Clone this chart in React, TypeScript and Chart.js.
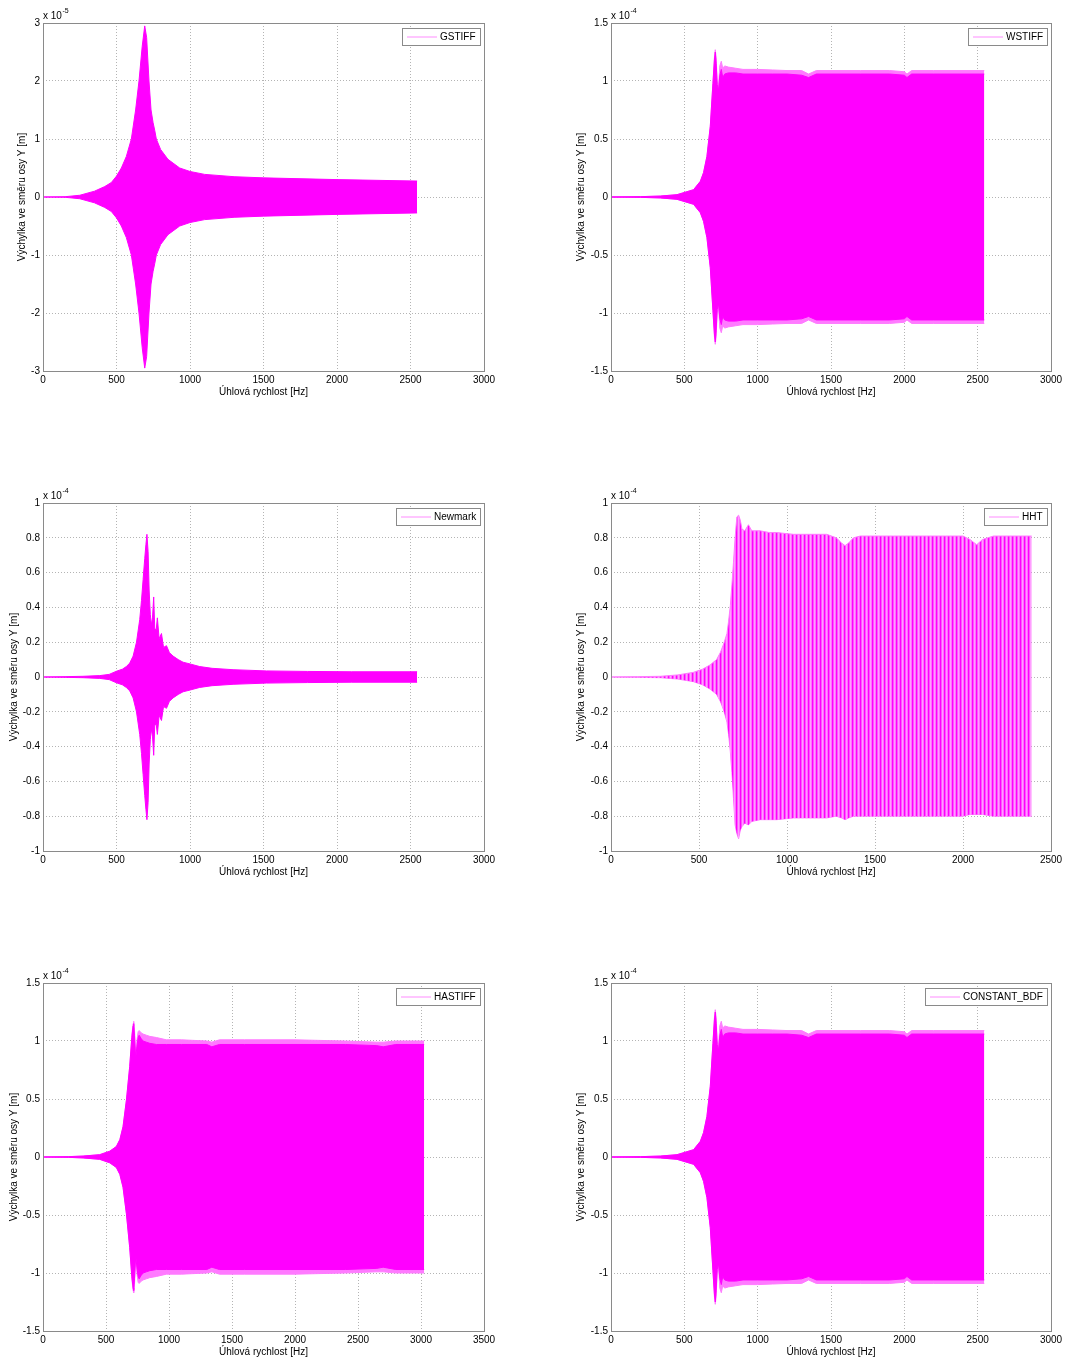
import React, { useEffect, useRef } from "react";
import { Chart, registerables } from "chart.js";

Chart.register(...registerables);

const FONT = "'Liberation Sans', Arial, Helvetica, sans-serif";
const MAGENTA = "#ff00ff";
const PALE = "#ff7aff";
const LEGEND_LINE = "#ff8cff";
const GRID = "#b4b4b4";
const FRAME = "#8a8a8a";

const X_TITLE = "Úhlová rychlost [Hz]";
const Y_TITLE = "Výchylka ve směru osy Y [m]";

// ---------- tick lists ----------
const xTicks3000 = [0, 500, 1000, 1500, 2000, 2500, 3000];
const xTicks2500 = [0, 500, 1000, 1500, 2000, 2500];
const xTicks3500 = [0, 500, 1000, 1500, 2000, 2500, 3000, 3500];
const yTicksGstiff = [-3, -2, -1, 0, 1, 2, 3];
const yTicks15 = [-1.5, -1, -0.5, 0, 0.5, 1, 1.5];
const yTicks1 = [-1, -0.8, -0.6, -0.4, -0.2, 0, 0.2, 0.4, 0.6, 0.8, 1];

// ---------- GSTIFF (x 1e-5 m) ----------
const gstiffHz = [0, 150, 250, 350, 420, 465, 500, 533, 567, 601, 630, 653, 675, 692, 705, 721, 735, 749, 760, 771, 800, 850, 930, 1000, 1100, 1300, 1500, 2000, 2545];
const gstiffUpper = [0, 0.005, 0.03, 0.1, 0.18, 0.25, 0.36, 0.5, 0.7, 1.0, 1.5, 2.0, 2.6, 2.95, 2.75, 2.0, 1.5, 1.28, 1.15, 1.0, 0.82, 0.65, 0.5, 0.44, 0.39, 0.35, 0.33, 0.3, 0.275];
const gstiffLower = [0, -0.005, -0.03, -0.1, -0.18, -0.25, -0.36, -0.5, -0.7, -1.0, -1.5, -2.0, -2.6, -2.95, -2.75, -2.0, -1.5, -1.28, -1.15, -1.0, -0.82, -0.65, -0.5, -0.44, -0.39, -0.35, -0.33, -0.3, -0.275];

// ---------- WSTIFF (x 1e-4 m) ----------
const wstiffHz = [0, 200, 336, 450, 563, 609, 631, 654, 677, 695, 705, 711, 717, 724, 733, 742, 752, 762, 775, 800, 850, 900, 1000, 1100, 1200, 1300, 1347, 1400, 1500, 1700, 1900, 2000, 2018, 2050, 2200, 2400, 2545];
const wstiffOuterUpper = [0, 0.003, 0.008, 0.02, 0.063, 0.135, 0.21, 0.35, 0.61, 0.98, 1.2, 1.27, 1.2, 1.0, 0.95, 1.13, 1.17, 1.11, 1.13, 1.12, 1.11, 1.1, 1.1, 1.095, 1.09, 1.09, 1.06, 1.09, 1.09, 1.09, 1.09, 1.08, 1.06, 1.09, 1.09, 1.09, 1.09];
const wstiffOuterLower = [0, -0.003, -0.008, -0.02, -0.063, -0.135, -0.21, -0.35, -0.61, -0.98, -1.2, -1.27, -1.2, -1.0, -0.95, -1.13, -1.17, -1.11, -1.13, -1.12, -1.11, -1.1, -1.1, -1.095, -1.09, -1.09, -1.06, -1.09, -1.09, -1.09, -1.09, -1.08, -1.06, -1.09, -1.09, -1.09, -1.09];
const wstiffInnerUpper = [0, 0.003, 0.008, 0.02, 0.063, 0.135, 0.21, 0.35, 0.61, 0.98, 1.18, 1.25, 1.15, 0.97, 0.92, 1.05, 1.1, 1.03, 1.06, 1.07, 1.07, 1.06, 1.06, 1.06, 1.06, 1.05, 1.03, 1.06, 1.06, 1.06, 1.06, 1.05, 1.03, 1.06, 1.06, 1.06, 1.06];
const wstiffInnerLower = [0, -0.003, -0.008, -0.02, -0.063, -0.135, -0.21, -0.35, -0.61, -0.98, -1.18, -1.25, -1.15, -0.97, -0.92, -1.05, -1.1, -1.03, -1.06, -1.07, -1.07, -1.06, -1.06, -1.06, -1.06, -1.05, -1.03, -1.06, -1.06, -1.06, -1.06, -1.05, -1.03, -1.06, -1.06, -1.06, -1.06];

// ---------- Newmark (x 1e-4 m) ----------
const newmarkHz = [0, 150, 272, 386, 450, 499, 540, 567, 590, 613, 636, 658, 670, 681, 692, 700, 707, 715, 722, 730, 737, 745, 753, 760, 770, 778, 790, 806, 820, 840, 860, 885, 920, 953, 1000, 1066, 1150, 1293, 1520, 1800, 2100, 2545];
const newmarkUpper = [0, 0.002, 0.004, 0.008, 0.015, 0.033, 0.045, 0.06, 0.08, 0.12, 0.2, 0.33, 0.44, 0.56, 0.68, 0.76, 0.82, 0.72, 0.5, 0.36, 0.3, 0.34, 0.46, 0.28, 0.27, 0.34, 0.22, 0.25, 0.17, 0.18, 0.14, 0.12, 0.1, 0.085, 0.075, 0.06, 0.05, 0.042, 0.035, 0.032, 0.03, 0.03];
const newmarkLower = [0, -0.002, -0.004, -0.008, -0.015, -0.033, -0.045, -0.06, -0.08, -0.12, -0.2, -0.33, -0.44, -0.56, -0.68, -0.76, -0.82, -0.72, -0.5, -0.36, -0.3, -0.34, -0.45, -0.28, -0.27, -0.33, -0.22, -0.25, -0.17, -0.18, -0.14, -0.12, -0.1, -0.085, -0.075, -0.06, -0.05, -0.042, -0.035, -0.032, -0.03, -0.03];

// ---------- HHT (x 1e-4 m) ----------
const hhtHz = [0, 150, 280, 380, 469, 520, 564, 600, 621, 640, 659, 668, 678, 687, 696, 705, 715, 725, 735, 744, 760, 781, 800, 848, 900, 942, 1037, 1100, 1226, 1280, 1310, 1330, 1350, 1378, 1416, 1500, 1605, 1700, 1794, 1900, 2000, 2040, 2078, 2110, 2173, 2250, 2390];
const hhtUpper = [0, 0.002, 0.004, 0.012, 0.027, 0.045, 0.07, 0.1, 0.14, 0.19, 0.25, 0.32, 0.41, 0.53, 0.66, 0.8, 0.92, 0.93, 0.9, 0.85, 0.84, 0.875, 0.84, 0.84, 0.83, 0.83, 0.82, 0.82, 0.82, 0.8, 0.77, 0.755, 0.77, 0.8, 0.81, 0.81, 0.81, 0.81, 0.81, 0.81, 0.81, 0.79, 0.76, 0.79, 0.81, 0.81, 0.81];
const hhtLower = [0, -0.002, -0.004, -0.012, -0.027, -0.045, -0.07, -0.1, -0.14, -0.19, -0.26, -0.33, -0.43, -0.55, -0.7, -0.85, -0.9, -0.93, -0.88, -0.86, -0.84, -0.85, -0.83, -0.82, -0.82, -0.82, -0.81, -0.81, -0.81, -0.8, -0.81, -0.82, -0.81, -0.8, -0.8, -0.8, -0.8, -0.8, -0.8, -0.8, -0.8, -0.79, -0.79, -0.79, -0.8, -0.8, -0.8];

// ---------- HASTIFF (x 1e-4 m) ----------
const hastiffHz = [0, 200, 318, 450, 530, 582, 610, 635, 662, 688, 705, 715, 720, 726, 736, 745, 755, 763, 780, 794, 820, 847, 900, 980, 1100, 1300, 1340, 1400, 1600, 2000, 2400, 2650, 2700, 2800, 3025];
const hastiffOuterUpper = [0, 0.003, 0.008, 0.02, 0.05, 0.09, 0.15, 0.26, 0.49, 0.78, 1.05, 1.15, 1.17, 1.1, 0.87, 1.0, 1.08, 1.09, 1.07, 1.06, 1.05, 1.04, 1.03, 1.01, 1.01, 1.0, 0.99, 1.01, 1.01, 1.01, 1.0, 0.99, 0.99, 1.0, 1.0];
const hastiffOuterLower = [0, -0.003, -0.008, -0.02, -0.05, -0.09, -0.15, -0.26, -0.49, -0.78, -1.05, -1.15, -1.17, -1.1, -0.87, -1.0, -1.08, -1.09, -1.07, -1.06, -1.05, -1.04, -1.03, -1.01, -1.01, -1.0, -0.99, -1.01, -1.01, -1.01, -1.0, -0.99, -0.99, -1.0, -1.0];
const hastiffInnerUpper = [0, 0.003, 0.008, 0.02, 0.05, 0.09, 0.15, 0.26, 0.49, 0.78, 1.03, 1.13, 1.15, 1.05, 0.85, 0.95, 1.03, 1.05, 1.02, 1.0, 0.99, 0.98, 0.97, 0.97, 0.97, 0.97, 0.95, 0.97, 0.97, 0.97, 0.97, 0.96, 0.95, 0.97, 0.97];
const hastiffInnerLower = [0, -0.003, -0.008, -0.02, -0.05, -0.09, -0.15, -0.26, -0.49, -0.78, -1.03, -1.13, -1.15, -1.05, -0.85, -0.95, -1.03, -1.05, -1.02, -1.0, -0.99, -0.98, -0.97, -0.97, -0.97, -0.97, -0.95, -0.97, -0.97, -0.97, -0.97, -0.96, -0.95, -0.97, -0.97];

// ---------- CONSTANT_BDF (x 1e-4 m) ----------
const bdfHz = [0, 200, 336, 450, 563, 609, 631, 654, 677, 695, 705, 711, 717, 724, 733, 742, 752, 762, 775, 800, 850, 900, 1000, 1100, 1200, 1300, 1347, 1400, 1500, 1700, 1900, 2000, 2018, 2050, 2200, 2400, 2545];
const bdfOuterUpper = [0, 0.003, 0.008, 0.02, 0.063, 0.135, 0.21, 0.35, 0.61, 0.98, 1.2, 1.27, 1.2, 1.0, 0.95, 1.13, 1.17, 1.11, 1.13, 1.12, 1.11, 1.1, 1.1, 1.095, 1.09, 1.09, 1.06, 1.09, 1.09, 1.09, 1.09, 1.08, 1.06, 1.09, 1.09, 1.09, 1.09];
const bdfOuterLower = [0, -0.003, -0.008, -0.02, -0.063, -0.135, -0.21, -0.35, -0.61, -0.98, -1.2, -1.27, -1.2, -1.0, -0.95, -1.13, -1.17, -1.11, -1.13, -1.12, -1.11, -1.1, -1.1, -1.095, -1.09, -1.09, -1.06, -1.09, -1.09, -1.09, -1.09, -1.08, -1.06, -1.09, -1.09, -1.09, -1.09];
const bdfInnerUpper = [0, 0.003, 0.008, 0.02, 0.063, 0.135, 0.21, 0.35, 0.61, 0.98, 1.18, 1.25, 1.15, 0.97, 0.92, 1.05, 1.1, 1.03, 1.06, 1.07, 1.07, 1.06, 1.06, 1.06, 1.06, 1.05, 1.03, 1.06, 1.06, 1.06, 1.06, 1.05, 1.03, 1.06, 1.06, 1.06, 1.06];
const bdfInnerLower = [0, -0.003, -0.008, -0.02, -0.063, -0.135, -0.21, -0.35, -0.61, -0.98, -1.18, -1.25, -1.15, -0.97, -0.92, -1.05, -1.1, -1.03, -1.06, -1.07, -1.07, -1.06, -1.06, -1.06, -1.06, -1.05, -1.03, -1.06, -1.06, -1.06, -1.06, -1.05, -1.03, -1.06, -1.06, -1.06, -1.06];

type Band = { xs: number[]; up: number[]; lo: number[]; fill: string; line: string; pattern?: boolean };
type PanelCfg = {
  name: string;
  left: number;
  top: number;
  plotLeft: number;
  plotRight: number;
  xMax: number;
  xTicks: number[];
  yMin: number;
  yMax: number;
  yTicks: number[];
  exponent: string;
  yTitleX: number;
  bands: Band[];
};

const CW = 506;
const CH = 400;
const PLOT_TOP = 23;
const PLOT_BOTTOM = 371;

const panels: PanelCfg[] = [
  {
    name: "GSTIFF", left: 0, top: 0, plotLeft: 43, plotRight: 484, xMax: 3000, xTicks: xTicks3000,
    yMin: -3, yMax: 3, yTicks: yTicksGstiff, exponent: "-5", yTitleX: 22.5,
    bands: [{ xs: gstiffHz, up: gstiffUpper, lo: gstiffLower, fill: MAGENTA, line: MAGENTA }],
  },
  {
    name: "WSTIFF", left: 560, top: 0, plotLeft: 51, plotRight: 491, xMax: 3000, xTicks: xTicks3000,
    yMin: -1.5, yMax: 1.5, yTicks: yTicks15, exponent: "-4", yTitleX: 21.5,
    bands: [
      { xs: wstiffHz, up: wstiffInnerUpper, lo: wstiffInnerLower, fill: MAGENTA, line: MAGENTA },
      { xs: wstiffHz, up: wstiffOuterUpper, lo: wstiffOuterLower, fill: PALE, line: PALE },
    ],
  },
  {
    name: "Newmark", left: 0, top: 480, plotLeft: 43, plotRight: 484, xMax: 3000, xTicks: xTicks3000,
    yMin: -1, yMax: 1, yTicks: yTicks1, exponent: "-4", yTitleX: 14,
    bands: [{ xs: newmarkHz, up: newmarkUpper, lo: newmarkLower, fill: MAGENTA, line: MAGENTA }],
  },
  {
    name: "HHT", left: 560, top: 480, plotLeft: 51, plotRight: 491, xMax: 2500, xTicks: xTicks2500,
    yMin: -1, yMax: 1, yTicks: yTicks1, exponent: "-4", yTitleX: 21.5,
    bands: [{ xs: hhtHz, up: hhtUpper, lo: hhtLower, fill: MAGENTA, line: PALE, pattern: true }],
  },
  {
    name: "HASTIFF", left: 0, top: 960, plotLeft: 43, plotRight: 484, xMax: 3500, xTicks: xTicks3500,
    yMin: -1.5, yMax: 1.5, yTicks: yTicks15, exponent: "-4", yTitleX: 14,
    bands: [
      { xs: hastiffHz, up: hastiffInnerUpper, lo: hastiffInnerLower, fill: MAGENTA, line: MAGENTA },
      { xs: hastiffHz, up: hastiffOuterUpper, lo: hastiffOuterLower, fill: PALE, line: PALE },
    ],
  },
  {
    name: "CONSTANT_BDF", left: 560, top: 960, plotLeft: 51, plotRight: 491, xMax: 3000, xTicks: xTicks3000,
    yMin: -1.5, yMax: 1.5, yTicks: yTicks15, exponent: "-4", yTitleX: 21.5,
    bands: [
      { xs: bdfHz, up: bdfInnerUpper, lo: bdfInnerLower, fill: MAGENTA, line: MAGENTA },
      { xs: bdfHz, up: bdfOuterUpper, lo: bdfOuterLower, fill: PALE, line: PALE },
    ],
  },
];

function makeStripePattern(): CanvasPattern | string {
  const pc = document.createElement("canvas");
  pc.width = 4;
  pc.height = 1;
  const c = pc.getContext("2d");
  if (!c) return MAGENTA;
  const cols = ["#ff00ff", "#ff55ff", "#ff9eff", "#ff6eff"];
  cols.forEach((col, i) => {
    c.fillStyle = col;
    c.fillRect(i, 0, 1, 1);
  });
  const p = c.createPattern(pc, "repeat");
  return p || MAGENTA;
}

function Panel({ cfg }: { cfg: PanelCfg }) {
  const ref = useRef<HTMLCanvasElement | null>(null);

  useEffect(() => {
    const canvas = ref.current;
    if (!canvas) return;

    const datasets: any[] = [];
    cfg.bands.forEach((b) => {
      const bg = b.pattern ? makeStripePattern() : b.fill;
      datasets.push({
        data: b.xs.map((x, i) => ({ x, y: b.up[i] })),
        fill: "+1",
        backgroundColor: bg,
        borderColor: b.line,
        borderWidth: 1,
        pointRadius: 0,
        tension: 0,
      });
      datasets.push({
        data: b.xs.map((x, i) => ({ x, y: b.lo[i] })),
        fill: false,
        borderColor: b.line,
        borderWidth: 1,
        pointRadius: 0,
        tension: 0,
      });
    });

    const deco = {
      id: "matlabDeco",
      afterDraw(chart: any) {
        const { ctx, chartArea: a } = chart;
        ctx.save();
        // frame
        ctx.strokeStyle = FRAME;
        ctx.lineWidth = 1;
        ctx.strokeRect(Math.round(a.left) + 0.5, Math.round(a.top) + 0.5, Math.round(a.right - a.left), Math.round(a.bottom - a.top));

        ctx.fillStyle = "#000";
        // x title
        ctx.font = `10px ${FONT}`;
        ctx.textAlign = "center";
        ctx.textBaseline = "middle";
        ctx.fillText(X_TITLE, (a.left + a.right) / 2, 392);

        // y title
        ctx.save();
        ctx.translate(cfg.yTitleX, (a.top + a.bottom) / 2);
        ctx.rotate(-Math.PI / 2);
        ctx.fillText(Y_TITLE, 0, 0);
        ctx.restore();

        // exponent
        ctx.textAlign = "left";
        ctx.textBaseline = "alphabetic";
        ctx.font = `10px ${FONT}`;
        const base = "x 10";
        ctx.fillText(base, a.left, 19);
        const bw = ctx.measureText(base).width;
        ctx.font = `7px ${FONT}`;
        ctx.fillText(cfg.exponent, a.left + bw + 0.5, 13);

        // legend
        ctx.font = `10px ${FONT}`;
        const tw = ctx.measureText(cfg.name).width;
        const boxW = 5 + 30 + 3 + tw + 4;
        const boxH = 17;
        const right = Math.round(a.right) - 4;
        const bl = Math.round(right - boxW);
        const bt = Math.round(a.top) + 5;
        ctx.fillStyle = "#fff";
        ctx.fillRect(bl, bt, right - bl, boxH);
        ctx.strokeStyle = FRAME;
        ctx.strokeRect(bl + 0.5, bt + 0.5, right - bl, boxH);
        ctx.strokeStyle = LEGEND_LINE;
        ctx.beginPath();
        ctx.moveTo(bl + 5, bt + 9);
        ctx.lineTo(bl + 35, bt + 9);
        ctx.stroke();
        ctx.fillStyle = "#000";
        ctx.textBaseline = "middle";
        ctx.fillText(cfg.name, bl + 38, bt + 9.5);
        ctx.restore();
      },
    };

    const chart = new Chart(canvas, {
      type: "line",
      data: { datasets },
      options: {
        animation: false,
        responsive: false,
        devicePixelRatio: 1,
        events: [],
        layout: {
          autoPadding: false,
          padding: { left: 0, top: PLOT_TOP, right: CW - cfg.plotRight, bottom: 0 },
        },
        plugins: {
          legend: { display: false },
          tooltip: { enabled: false },
          title: { display: false },
        },
        scales: {
          x: {
            type: "linear",
            min: 0,
            max: cfg.xMax,
            afterBuildTicks: (s: any) => {
              s.ticks = cfg.xTicks.map((v) => ({ value: v }));
            },
            afterFit: (s: any) => {
              s.height = CH - PLOT_BOTTOM;
            },
            ticks: {
              autoSkip: false,
              maxRotation: 0,
              padding: 3,
              color: "#000",
              font: { family: FONT, size: 10 },
              callback: (v: any) => String(v),
            },
            grid: { color: GRID, lineWidth: 1, drawTicks: false },
            border: { display: false, dash: [1, 2] },
          },
          y: {
            type: "linear",
            min: cfg.yMin,
            max: cfg.yMax,
            afterBuildTicks: (s: any) => {
              s.ticks = cfg.yTicks.map((v) => ({ value: v }));
            },
            afterFit: (s: any) => {
              s.width = cfg.plotLeft;
            },
            ticks: {
              autoSkip: false,
              padding: 3,
              color: "#000",
              font: { family: FONT, size: 10 },
              callback: (v: any) => String(v),
            },
            grid: { color: GRID, lineWidth: 1, drawTicks: false },
            border: { display: false, dash: [1, 2] },
          },
        },
      } as any,
      plugins: [deco],
    });

    return () => chart.destroy();
  }, [cfg]);

  return (
    <canvas
      ref={ref}
      width={CW}
      height={CH}
      style={{ position: "absolute", left: cfg.left, top: cfg.top, width: CW, height: CH }}
    />
  );
}

export default function App() {
  return (
    <div style={{ position: "absolute", left: 0, top: 0, width: 1066, height: 1360, background: "#fff" }}>
      {panels.map((p) => (
        <Panel key={p.name} cfg={p} />
      ))}
    </div>
  );
}
